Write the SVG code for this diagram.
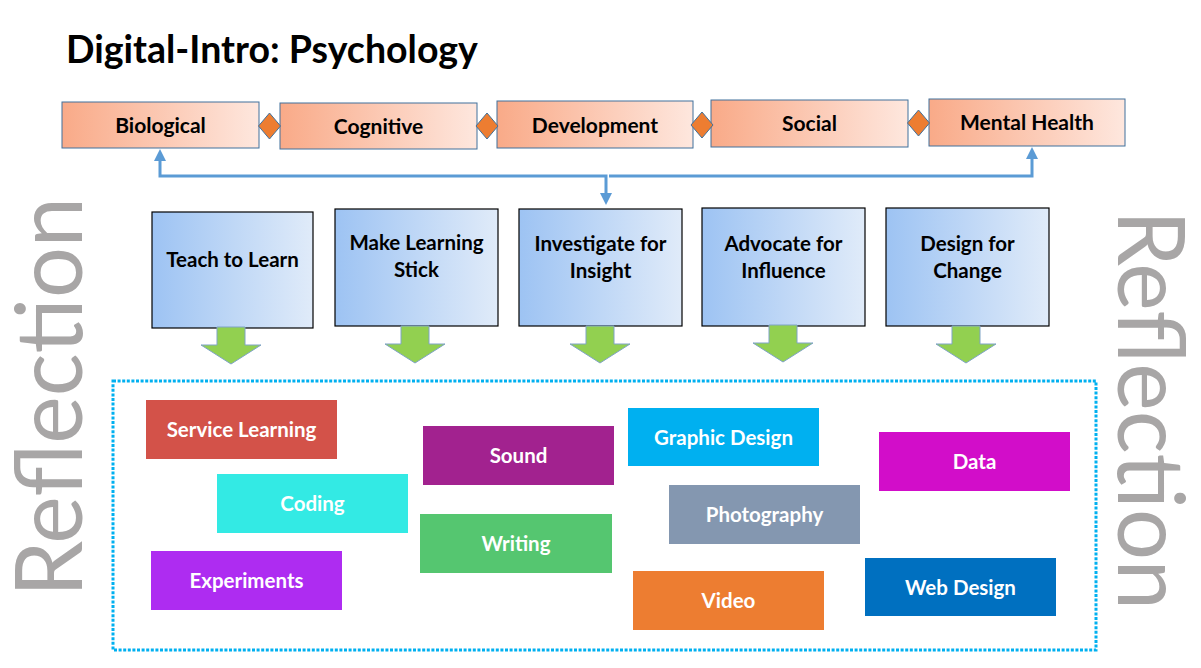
<svg xmlns="http://www.w3.org/2000/svg" width="1201" height="668" viewBox="0 0 1201 668">
<style>
.title{font-family:Lato,"Liberation Sans",sans-serif;font-weight:700;font-size:37.5px;fill:#000}
.top{fill:url(#gOrange);stroke:#41719C;stroke-width:1}
.toptxt{font-family:Lato,"Liberation Sans",sans-serif;font-weight:700;font-size:21px;fill:#000;text-anchor:middle}
.dia{fill:#ED7D31;stroke:#41719C;stroke-width:1}
.mid{fill:url(#gBlue);stroke:#000;stroke-width:1.2}
.midtxt{font-family:Lato,"Liberation Sans",sans-serif;font-weight:700;font-size:20.5px;fill:#000;text-anchor:middle}
.tagtxt{font-family:Lato,"Liberation Sans",sans-serif;font-weight:700;font-size:20.5px;fill:#fff;text-anchor:middle}
.refl{font-family:Lato,"Liberation Sans",sans-serif;font-weight:400;font-size:93px;fill:#A8A6A6;text-anchor:middle}
.conn{fill:none;stroke:#5B9BD5;stroke-width:3}
.garrow{fill:#92D050;stroke:#7FA3C6;stroke-width:1}
</style>
<defs>
<linearGradient id="gOrange" x1="0" y1="0" x2="1" y2="0">
<stop offset="0" stop-color="#F9AA88"/>
<stop offset="1" stop-color="#FEE7DE"/>
</linearGradient>
<linearGradient id="gBlue" x1="0" y1="0" x2="1" y2="0">
<stop offset="0" stop-color="#9DC3F3"/>
<stop offset="1" stop-color="#E0EBF9"/>
</linearGradient>
<marker id="ah" viewBox="0 0 10 10" refX="0" refY="5" markerWidth="4" markerHeight="4" orient="auto-start-reverse" markerUnits="strokeWidth">
<path d="M0,0 L10,5 L0,10 z" fill="#5B9BD5"/>
</marker>
<path id="down" d="M-14,0 H14 V18 H30 L0,37 L-30,18 H-14 Z"/>
</defs>
<rect width="1201" height="668" fill="#fff"/>

<text class="title" x="66" y="63">Digital-Intro: Psychology</text>

<g id="reflection-left"><text class="refl" transform="translate(82,397) rotate(-90)" textLength="400" lengthAdjust="spacingAndGlyphs">Reflection</text></g>
<g id="reflection-right"><text class="refl" transform="translate(1118,410) rotate(90)" textLength="400" lengthAdjust="spacingAndGlyphs">Reflection</text></g>

<g id="connectors">
<path class="conn" d="M606,193 V176 H160 V161" marker-start="url(#ah)" marker-end="url(#ah)"/>
<path class="conn" d="M609,176 H1032 V159" marker-end="url(#ah)"/>
</g>

<g id="n-biological"><rect class="top" x="62" y="102" width="197" height="46"/><text class="toptxt" x="160.5" y="133">Biological</text></g>
<g id="n-cognitive"><rect class="top" x="280" y="103" width="197" height="46"/><text class="toptxt" x="378.5" y="134">Cognitive</text></g>
<g id="n-development"><rect class="top" x="497" y="101" width="196" height="47"/><text class="toptxt" x="595" y="133">Development</text></g>
<g id="n-social"><rect class="top" x="711" y="100" width="197" height="47"/><text class="toptxt" x="809.5" y="131">Social</text></g>
<g id="n-mental"><rect class="top" x="929" y="99" width="196" height="47"/><text class="toptxt" x="1027" y="130">Mental Health</text></g>

<g id="diamonds">
<polygon class="dia" points="269.5,113 280.5,126 269.5,139 258.5,126"/>
<polygon class="dia" points="487,113 498,126 487,139 476,126"/>
<polygon class="dia" points="702,112 713,125 702,138 691,125"/>
<polygon class="dia" points="918.5,110 929.5,123 918.5,136 907.5,123"/>
</g>

<g id="n-teach"><rect class="mid" x="152" y="212" width="161" height="116"/><text class="midtxt" x="232.5" y="267">Teach to Learn</text></g>
<g id="n-make"><rect class="mid" x="335" y="209" width="163" height="117"/><text class="midtxt" x="416.5" y="250">Make Learning</text><text class="midtxt" x="416.5" y="277">Stick</text></g>
<g id="n-investigate"><rect class="mid" x="519" y="209" width="163" height="117"/><text class="midtxt" x="600.5" y="251">Investigate for</text><text class="midtxt" x="600.5" y="278">Insight</text></g>
<g id="n-advocate"><rect class="mid" x="702" y="208" width="163" height="118"/><text class="midtxt" x="783.5" y="251">Advocate for</text><text class="midtxt" x="783.5" y="278">Influence</text></g>
<g id="n-design"><rect class="mid" x="886" y="208" width="163" height="118"/><text class="midtxt" x="967.5" y="251">Design for</text><text class="midtxt" x="967.5" y="278">Change</text></g>

<g id="green-arrows">
<use href="#down" class="garrow" transform="translate(231,327)"/>
<use href="#down" class="garrow" transform="translate(415,326)"/>
<use href="#down" class="garrow" transform="translate(600,326)"/>
<use href="#down" class="garrow" transform="translate(783,325)"/>
<use href="#down" class="garrow" transform="translate(966,326)"/>
</g>

<g id="media-frame"><rect x="113" y="381" width="983" height="269" fill="none" stroke="#00B0F0" stroke-width="3" stroke-dasharray="3 1.6"/></g>

<g id="t-service"><rect x="146" y="400" width="191" height="59" fill="#D35249"/><text class="tagtxt" x="241.5" y="437">Service Learning</text></g>
<g id="t-sound"><rect x="423" y="426" width="191" height="59" fill="#A2228F"/><text class="tagtxt" x="518.5" y="463">Sound</text></g>
<g id="t-graphic"><rect x="628" y="408" width="191" height="58" fill="#00B0F0"/><text class="tagtxt" x="723.5" y="445">Graphic Design</text></g>
<g id="t-data"><rect x="879" y="432" width="191" height="59" fill="#D20DC9"/><text class="tagtxt" x="974.5" y="469">Data</text></g>
<g id="t-coding"><rect x="217" y="474" width="191" height="59" fill="#33EAE4"/><text class="tagtxt" x="312.5" y="511">Coding</text></g>
<g id="t-writing"><rect x="420" y="514" width="192" height="59" fill="#55C670"/><text class="tagtxt" x="516" y="551">Writing</text></g>
<g id="t-photo"><rect x="669" y="485" width="191" height="59" fill="#8497B0"/><text class="tagtxt" x="764.5" y="522">Photography</text></g>
<g id="t-experiments"><rect x="151" y="551" width="191" height="59" fill="#AE2CF1"/><text class="tagtxt" x="246.5" y="588">Experiments</text></g>
<g id="t-video"><rect x="633" y="571" width="191" height="59" fill="#ED7D31"/><text class="tagtxt" x="728.5" y="608">Video</text></g>
<g id="t-web"><rect x="865" y="558" width="191" height="58" fill="#0070C0"/><text class="tagtxt" x="960.5" y="595">Web Design</text></g>
</svg>
